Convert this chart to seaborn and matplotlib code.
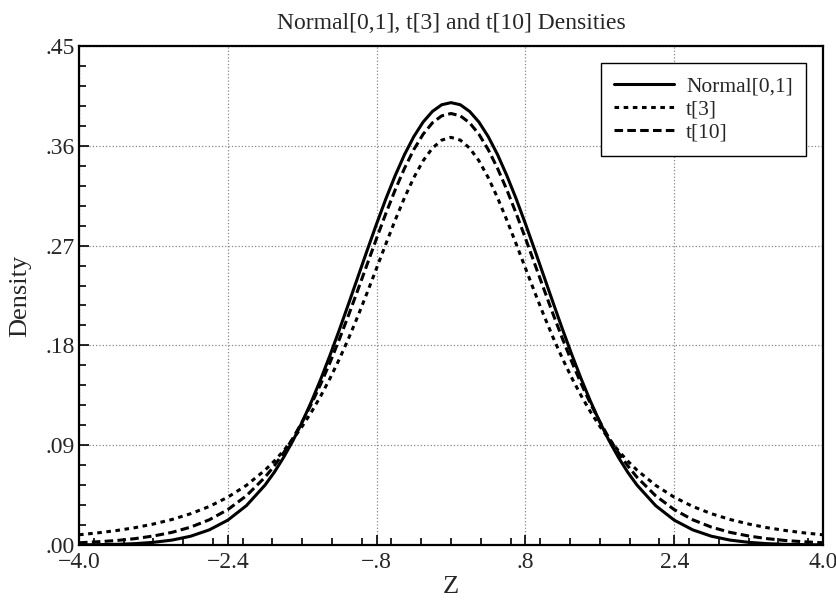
import numpy as np
import pandas as pd
import matplotlib
matplotlib.use("Agg")
import matplotlib.pyplot as plt
import seaborn as sns
from matplotlib.ticker import FixedLocator, FixedFormatter, MultipleLocator

# values
z = [-4.0, -3.8, -3.6, -3.4, -3.2, -3.0, -2.8, -2.6, -2.4, -2.2,
     -2.0, -1.9, -1.8, -1.7, -1.6, -1.5, -1.4, -1.3, -1.2, -1.1,
     -1.0, -0.9, -0.8, -0.7, -0.6, -0.5, -0.4, -0.3, -0.2, -0.1, 0.0,
     0.1, 0.2, 0.3, 0.4, 0.5, 0.6, 0.7, 0.8, 0.9, 1.0,
     1.1, 1.2, 1.3, 1.4, 1.5, 1.6, 1.7, 1.8, 1.9, 2.0,
     2.2, 2.4, 2.6, 2.8, 3.0, 3.2, 3.4, 3.6, 3.8, 4.0]
normal = [.0001, .0003, .0006, .0012, .0024, .0044, .0079, .0136, .0224, .0355,
          .0540, .0656, .0790, .0940, .1109, .1295, .1497, .1714, .1942, .2179,
          .2420, .2661, .2897, .3123, .3332, .3521, .3683, .3814, .3910, .3970, .3989,
          .3970, .3910, .3814, .3683, .3521, .3332, .3123, .2897, .2661, .2420,
          .2179, .1942, .1714, .1497, .1295, .1109, .0940, .0790, .0656, .0540,
          .0355, .0224, .0136, .0079, .0044, .0024, .0012, .0006, .0003, .0001]
t3 = [.0092, .0109, .0130, .0156, .0189, .0230, .0282, .0347, .0431, .0538,
      .0675, .0757, .0850, .0954, .1070, .1200, .1345, .1504, .1678, .1866,
      .2067, .2279, .2497, .2716, .2930, .3132, .3313, .3465, .3579, .3651, .3676,
      .3651, .3579, .3465, .3313, .3132, .2930, .2716, .2497, .2279, .2067,
      .1866, .1678, .1504, .1345, .1200, .1070, .0954, .0850, .0757, .0675,
      .0538, .0431, .0347, .0282, .0230, .0189, .0156, .0130, .0109, .0092]
t10 = [.0020, .0029, .0040, .0057, .0081, .0114, .0161, .0227, .0319, .0444,
       .0611, .0714, .0831, .0963, .1111, .1274, .1454, .1648, .1857, .2076,
       .2304, .2535, .2766, .2991, .3203, .3397, .3566, .3704, .3807, .3870, .3891,
       .3870, .3807, .3704, .3566, .3397, .3203, .2991, .2766, .2535, .2304,
       .2076, .1857, .1648, .1454, .1274, .1111, .0963, .0831, .0714, .0611,
       .0444, .0319, .0227, .0161, .0114, .0081, .0057, .0040, .0029, .0020]
series = ["Normal[0,1]", "t[3]", "t[10]"]

x_ticks = [-4.0, -2.4, -0.8, 0.8, 2.4, 4.0]
x_labels = ["\u22124.0", "\u22122.4", "\u2212.8", ".8", "2.4", "4.0"]
y_ticks = [0.0, 0.09, 0.18, 0.27, 0.36, 0.45]
y_labels = [".00", ".09", ".18", ".27", ".36", ".45"]

df = pd.concat([
    pd.DataFrame({"Z": z, "Density": normal, "Series": series[0]}),
    pd.DataFrame({"Z": z, "Density": t3, "Series": series[1]}),
    pd.DataFrame({"Z": z, "Density": t10, "Series": series[2]}),
])

sns.set_style("white")
plt.rcParams["font.family"] = ["Liberation Serif", "DejaVu Serif"]
plt.rcParams["lines.solid_joinstyle"] = "round"
plt.rcParams["lines.dash_joinstyle"] = "round"

fig = plt.figure(figsize=(8.37, 6.05), dpi=100)
ax = fig.add_axes([0.0944, 0.0992, 0.8889, 0.8248])

sns.lineplot(data=df, x="Z", y="Density", style="Series", style_order=series,
             dashes={series[0]: "", series[1]: (1.5, 1.5), series[2]: (2.8, 1.4)},
             color="black", linewidth=2.2, ax=ax, sort=False)

ax.set_xlim(-4, 4)
ax.set_ylim(0, 0.45)
ax.xaxis.set_major_locator(FixedLocator(x_ticks))
ax.xaxis.set_major_formatter(FixedFormatter(x_labels))
ax.yaxis.set_major_locator(FixedLocator(y_ticks))
ax.yaxis.set_major_formatter(FixedFormatter(y_labels))
ax.xaxis.set_minor_locator(MultipleLocator(0.32))
ax.yaxis.set_minor_locator(MultipleLocator(0.018))
ax.tick_params(which="both", direction="in", bottom=True, left=True, top=False, right=False,
               labelsize=17, width=1.2, color="black")
ax.tick_params(which="major", length=7, pad=3)
ax.tick_params(axis="x", which="major", pad=5)
ax.tick_params(which="minor", length=5)
ax.grid(True, which="major", linestyle=":", color="#888888", linewidth=0.9)
for s in ax.spines.values():
    s.set_color("black")
    s.set_linewidth(1.6)

ax.set_title("Normal[0,1], t[3] and t[10] Densities", fontsize=17, pad=12)
ax.set_xlabel("Z", fontsize=19, labelpad=2)
ax.set_ylabel("Density", fontsize=19, labelpad=10)

leg = ax.legend(loc="upper right", fontsize=15.5, frameon=True, fancybox=False,
                edgecolor="black", framealpha=1, handlelength=2.8, handletextpad=0.55,
                labelspacing=0.15, borderpad=0.6, borderaxespad=0.8)
leg.get_frame().set_linewidth(1.0)

fig.savefig("out.png", dpi=100)
